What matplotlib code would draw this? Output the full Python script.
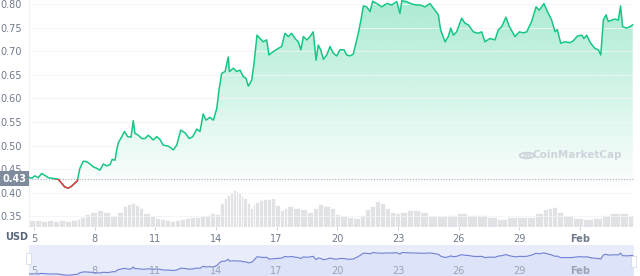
import matplotlib
matplotlib.use("Agg")
import matplotlib.pyplot as plt
import matplotlib.transforms as mtransforms
from matplotlib.patches import Rectangle, FancyBboxPatch, Circle
import numpy as np

# price series (day of January, USD)
days = [4.72, 4.89, 5.05, 5.21, 5.38, 5.54, 5.71, 5.88, 6.04, 6.20, 6.37, 6.53, 6.70, 6.86, 7.03, 7.14,
        7.27, 7.44, 7.61, 7.77, 7.93, 8.10, 8.26, 8.43, 8.60, 8.76, 8.87, 9.01, 9.09, 9.17, 9.34, 9.47,
        9.63, 9.80, 9.91, 9.99, 10.16, 10.33, 10.49, 10.65, 10.90, 11.07, 11.23, 11.39, 11.64, 11.89,
        12.06, 12.26, 12.47, 12.68, 12.85, 13.05, 13.21, 13.37, 13.51, 13.70, 13.87, 14.04, 14.15,
        14.28, 14.45, 14.61, 14.66, 14.86, 15.02, 15.19, 15.35, 15.48, 15.60, 15.77, 15.88, 16.03,
        16.18, 16.34, 16.51, 16.62, 16.83, 17.08, 17.25, 17.41, 17.58, 17.74, 17.91, 18.07, 18.20,
        18.32, 18.49, 18.65, 18.81, 18.95, 19.06, 19.18, 19.31, 19.48, 19.64, 19.80, 19.97, 20.13,
        20.33, 20.47, 20.63, 20.79, 20.92, 21.04, 21.17, 21.29, 21.45, 21.62, 21.75, 21.95, 22.20,
        22.44, 22.69, 22.94, 23.10, 23.19, 23.43, 23.68, 23.93, 24.09, 24.34, 24.58, 24.83, 25.00,
        25.11, 25.33, 25.49, 25.61, 25.74, 25.90, 26.15, 26.32, 26.48, 26.73, 26.97, 27.14, 27.30,
        27.55, 27.80, 27.96, 28.13, 28.34, 28.51, 28.79, 29.00, 29.20, 29.37, 29.61, 29.83, 29.99,
        30.22, 30.39, 30.60, 30.77, 30.88, 31.05, 31.26, 31.51, 31.67, 31.87, 32.09, 32.20, 32.33,
        32.53, 32.74, 32.91, 33.03, 33.16, 33.29, 33.40, 33.57, 33.73, 33.90, 34.01, 34.11, 34.31,
        34.47, 34.61]
price = [0.433, 0.431, 0.436, 0.432, 0.441, 0.437, 0.432, 0.431, 0.430, 0.429, 0.420, 0.412, 0.410,
         0.414, 0.421, 0.425, 0.452, 0.467, 0.466, 0.461, 0.455, 0.452, 0.448, 0.461, 0.457, 0.460,
         0.471, 0.469, 0.491, 0.506, 0.519, 0.530, 0.519, 0.518, 0.553, 0.526, 0.522, 0.515, 0.515,
         0.522, 0.512, 0.519, 0.513, 0.501, 0.499, 0.491, 0.501, 0.533, 0.527, 0.515, 0.519, 0.535,
         0.530, 0.567, 0.554, 0.560, 0.554, 0.579, 0.618, 0.653, 0.657, 0.688, 0.657, 0.664, 0.657,
         0.660, 0.646, 0.643, 0.626, 0.639, 0.674, 0.734, 0.727, 0.720, 0.724, 0.692, 0.699, 0.706,
         0.710, 0.738, 0.731, 0.738, 0.727, 0.720, 0.703, 0.731, 0.724, 0.731, 0.741, 0.681, 0.713,
         0.703, 0.683, 0.692, 0.710, 0.696, 0.690, 0.703, 0.703, 0.692, 0.690, 0.694, 0.717, 0.738,
         0.766, 0.796, 0.794, 0.784, 0.806, 0.801, 0.794, 0.801, 0.798, 0.805, 0.780, 0.807, 0.805,
         0.800, 0.798, 0.798, 0.794, 0.801, 0.787, 0.777, 0.745, 0.720, 0.731, 0.749, 0.734, 0.741,
         0.770, 0.759, 0.756, 0.741, 0.738, 0.741, 0.720, 0.727, 0.724, 0.745, 0.752, 0.772, 0.752,
         0.731, 0.741, 0.739, 0.741, 0.763, 0.794, 0.787, 0.801, 0.784, 0.766, 0.741, 0.746, 0.717,
         0.720, 0.718, 0.722, 0.732, 0.734, 0.727, 0.734, 0.717, 0.706, 0.703, 0.692, 0.766, 0.777,
         0.763, 0.766, 0.768, 0.766, 0.796, 0.752, 0.749, 0.752, 0.756]

# trading volume (million USD)
vol_days = [4.75, 5.05, 5.35, 5.64, 5.94, 6.24, 6.53, 6.83, 7.13, 7.27, 7.52, 7.77, 8.12, 8.41, 8.76,
            9.10, 9.40, 9.60, 9.80, 9.99, 10.19, 10.39, 10.74, 10.98, 11.23, 11.48, 11.73, 11.97,
            12.22, 12.47, 12.72, 12.96, 13.21, 13.46, 13.70, 13.95, 14.20, 14.40, 14.55, 14.69,
            14.84, 14.99, 15.09, 15.24, 15.34, 15.53, 15.68, 15.83, 15.93, 16.13, 16.33, 16.52,
            16.72, 16.92, 17.17, 17.36, 17.51, 17.81, 18.16, 18.50, 18.80, 19.05, 19.30, 19.64,
            19.89, 20.13, 20.48, 20.78, 21.12, 21.37, 21.62, 21.86, 22.11, 22.36, 22.61, 22.85,
            23.10, 23.45, 23.74, 24.09, 24.49, 24.93, 25.43, 25.92, 26.42, 26.91, 27.40, 27.90,
            28.39, 28.89, 29.38, 29.78, 30.17, 30.42, 30.62, 30.87, 31.16, 31.66, 32.15, 32.65,
            33.09, 33.49, 33.98, 34.38, 34.63]
volume = [31, 31, 26, 31, 26, 31, 26, 31, 35, 45, 57, 67, 75, 67, 48, 67, 92, 101, 106, 97, 84, 63,
          48, 40, 34, 29, 28, 31, 34, 40, 43, 46, 48, 53, 60, 57, 104, 128, 141, 154, 163, 158, 148,
          136, 126, 106, 82, 101, 111, 119, 123, 125, 126, 97, 75, 84, 92, 82, 78, 67, 82, 101, 92,
          82, 57, 48, 43, 38, 53, 78, 92, 116, 107, 82, 67, 60, 67, 75, 75, 67, 48, 48, 53, 60, 53,
          53, 43, 34, 45, 43, 45, 63, 78, 84, 87, 67, 48, 38, 34, 38, 53, 63, 60, 48, 45]

tick_days = [5, 8, 11, 14, 17, 20, 23, 26, 29, 32]
tick_labels = ["5", "8", "11", "14", "17", "20", "23", "26", "29", "Feb"]
y_ticks = [0.35, 0.40, 0.45, 0.50, 0.55, 0.60, 0.65, 0.70, 0.75, 0.80]
open_price = 0.43

GREEN = "#16c784"
RED = "#ea3943"
TEXT = "#6f7a8c"

XMIN, XMAX = 4.753, 34.674
YMIN, YMAX = 0.3276, 0.8085

fig = plt.figure(figsize=(6.4, 2.76), dpi=100)
ax = fig.add_axes([29 / 640, 49 / 276, 605 / 640, 227 / 276])
axv = ax.twinx()
axv.set_zorder(0)
ax.set_zorder(1)
ax.patch.set_visible(False)

# volume bars
vd = np.array(vol_days)
widths = np.diff(np.append(vd, XMAX + 0.1))
axv.bar(vd, volume, width=widths, align="edge", color="#e0e2e6", edgecolor="white", linewidth=0.5)
axv.set_ylim(0, 1000)
axv.set_xlim(XMIN, XMAX)
axv.axis("off")

# gradient fill under price line
fill = ax.fill_between(days, price, YMIN, facecolor="none", edgecolor="none")
grad = np.zeros((256, 1, 4))
grad[:, 0, :3] = matplotlib.colors.to_rgb(GREEN)
grad[:, 0, 3] = np.linspace(0.0, 0.36, 256)
im = ax.imshow(grad, extent=[XMIN, XMAX, 0.40, YMAX], origin="lower", aspect="auto", zorder=1)
im.set_clip_path(fill.get_paths()[0], transform=ax.transData)

# open price dotted line
ax.axhline(open_price, color="#a6b0c3", linestyle=(0, (1, 1.5)), linewidth=0.8, zorder=2)

ax.plot(days, price, color=GREEN, linewidth=1.1, zorder=3)
red, = ax.plot(days, price, color=RED, linewidth=1.1, zorder=4)
red.set_clip_path(Rectangle((XMIN, YMIN), XMAX - XMIN, open_price - YMIN, transform=ax.transData))

ax.set_xlim(XMIN, XMAX)
ax.set_ylim(YMIN, YMAX)
ax.set_yticks(y_ticks)
ax.set_yticklabels([f"{v:.2f}" for v in y_ticks])
ax.grid(True, axis="y", color="#f3f4f6", linewidth=0.6)
ax.set_xticks(tick_days)
ax.set_xticklabels(tick_labels)
for lbl in ax.get_xticklabels():
    if lbl.get_text() == "Feb":
        lbl.set_fontweight("bold")
        lbl.set_color("#58667e")
ax.tick_params(axis="y", length=0, pad=5, labelsize=7, labelcolor=TEXT)
ax.tick_params(axis="x", length=2.5, width=0.6, color="#c5cad3", pad=2.5, labelsize=7, labelcolor=TEXT)
for s in ["top", "right", "bottom"]:
    ax.spines[s].set_visible(False)
ax.spines["left"].set_color("#eff2f5")
ax.spines["left"].set_linewidth(0.8)

# current/open price tag
trans = mtransforms.blended_transform_factory(ax.transAxes, ax.transData)
ax.text(-0.004, open_price, f"{open_price:.2f}", transform=trans, ha="right", va="center",
        fontsize=7, fontweight="bold", color="white", zorder=6,
        bbox=dict(boxstyle="square,pad=0.25", facecolor="#808a9d", edgecolor="none"))

# watermark
ax.text(0.98, 0.315, "CoinMarketCap", transform=ax.transAxes, ha="right", va="center",
        fontsize=7.5, fontweight="bold", color="#cfd4dc", zorder=2)
ax.add_patch(Circle((0.823, 0.315), 0.012, transform=ax.transAxes, facecolor="none",
                    edgecolor="#cfd4dc", linewidth=1.4, zorder=2))
ax.text(0.823, 0.312, "m", transform=ax.transAxes, ha="center", va="center",
        fontsize=6, fontweight="bold", color="#cfd4dc", zorder=2)

fig.text(5 / 640, (276 - 237) / 276, "USD", ha="left", va="center", fontsize=7,
         fontweight="bold", color="#58667e")

# navigator
axn = fig.add_axes([29 / 640, 0, 605 / 640, 31 / 276])
axn.set_facecolor("#e8ecfb")
axn.fill_between(days, price, 0.3, color="#dde3f8", linewidth=0)
axn.plot(days, price, color="#6f80d4", linewidth=0.8)
axn.set_xlim(XMIN, XMAX)
axn.set_ylim(0.395, 0.94)
axn.set_xticks([])
axn.set_yticks([])
for s in axn.spines.values():
    s.set_visible(False)
ntrans = mtransforms.blended_transform_factory(axn.transData, axn.transAxes)
for d, t in zip(tick_days, tick_labels):
    axn.text(d, 0.16, t, transform=ntrans, ha="center", va="center", fontsize=7,
             color="#9aa4b5", fontweight="bold" if t == "Feb" else "normal")
for xh, yh in [(0.0, 0.55), (1.0, 0.45)]:
    axn.add_patch(FancyBboxPatch((xh - 0.004, yh - 0.18), 0.008, 0.36, transform=axn.transAxes,
                                 boxstyle="round,pad=0.0,rounding_size=0.003", facecolor="white",
                                 edgecolor="#d0d6e6", linewidth=0.5, clip_on=False))

fig.savefig("out.png", dpi=100)
